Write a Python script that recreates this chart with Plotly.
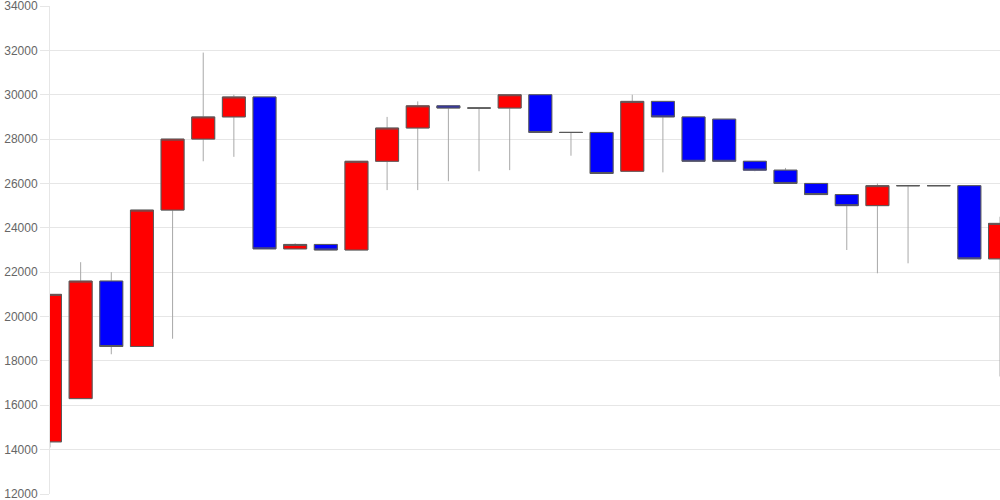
import plotly.graph_objects as go

opens = [14350, 16300, 21600, 18650, 24800, 28000, 29000, 29900, 23050, 23250,
         23000, 27000, 28500, 29500, 29400, 29400, 30000, 28300, 28300, 26550,
         29700, 29000, 28900, 27000, 26600, 26000, 25500, 25000, 25900, 25900,
         25900, 22600]
highs = [21000, 22450, 22000, 24800, 28000, 31900, 30000, 29900, 23300, 23250,
         27000, 29000, 29700, 29500, 29400, 30000, 30000, 28300, 28300, 30000,
         29700, 29000, 28900, 27000, 26700, 26000, 25500, 26000, 25900, 25900,
         25900, 24500]
lows = [14100, 16300, 18300, 18650, 19000, 27000, 27200, 23050, 23050, 23000,
        23000, 25700, 25700, 26100, 26550, 26600, 28300, 27250, 26450, 26550,
        26500, 27000, 27000, 26550, 26000, 25500, 23000, 21950, 22400, 25900,
        22600, 17300]
closes = [21000, 21600, 18650, 24800, 28000, 29000, 29900, 23050, 23250, 23000,
          27000, 28500, 29500, 29400, 29400, 30000, 28300, 28300, 26450, 29700,
          29000, 27000, 27000, 26600, 26000, 25500, 25000, 25900, 25900, 25900,
          22600, 24200]
x_idx = list(range(len(opens)))
y_ticks = [12000, 14000, 16000, 18000, 20000, 22000, 24000, 26000, 28000,
           30000, 32000, 34000]

body_top = [max(o, c) for o, c in zip(opens, closes)]
body_bot = [min(o, c) for o, c in zip(opens, closes)]

fig = go.Figure()
# wicks (light grey)
fig.add_trace(go.Candlestick(
    x=x_idx, open=opens, high=highs, low=lows, close=closes,
    increasing=dict(fillcolor="#ff0000", line=dict(color="#a8a8a8", width=1)),
    decreasing=dict(fillcolor="#0000ff", line=dict(color="#a8a8a8", width=1)),
    whiskerwidth=0, showlegend=False, hoverinfo="skip",
))
# bodies with darker outline
fig.add_trace(go.Candlestick(
    x=x_idx, open=opens, high=body_top, low=body_bot, close=closes,
    increasing=dict(fillcolor="#ff0000", line=dict(color="#5a5a5a", width=1)),
    decreasing=dict(fillcolor="#0000ff", line=dict(color="#5a5a5a", width=1)),
    whiskerwidth=0, showlegend=False,
))

fig.update_layout(
    width=1000, height=500,
    margin=dict(l=50, r=0, t=6, b=6, autoexpand=False),
    paper_bgcolor="white", plot_bgcolor="white",
    boxmode="overlay", boxgap=0.25, boxgroupgap=0,
    font=dict(family="Liberation Sans, Arial, sans-serif", size=12, color="#666666"),
    xaxis=dict(range=[0, len(opens) - 1], showticklabels=False, showgrid=False,
               zeroline=False, rangeslider=dict(visible=False), ticks="",
               showline=False, automargin=False),
    yaxis=dict(range=[12000, 34000], tickvals=y_ticks, ticktext=[str(v) for v in y_ticks],
               gridcolor="#e6e6e6", gridwidth=1, zeroline=False,
               showline=True, linecolor="#e6e6e6", linewidth=1,
               ticks="outside", ticklen=9, tickcolor="#e6e6e6", tickwidth=1,
               tickfont=dict(size=12, color="#666666"),
               automargin=False, ticklabeloverflow="allow"),
)

fig.write_html("out.html", config={"displayModeBar": False},
               post_script="document.body.style.margin='0';document.body.style.overflow='hidden';")
